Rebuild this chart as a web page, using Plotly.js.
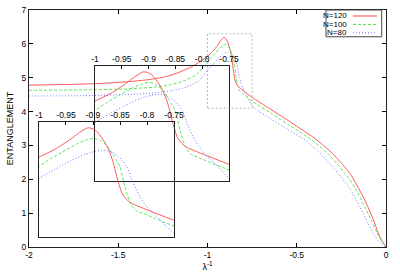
<!DOCTYPE html>
<html>
<head>
<meta charset="utf-8">
<script src="https://cdn.plot.ly/plotly-3.0.1.min.js"></script>
<style>html,body{margin:0;padding:0;background:#fff;}#chart{width:400px;height:280px;}</style>
</head>
<body>
<div id="chart"></div>
<script>
// ---- data ----
var seriesNames = ['N=120', 'N=100', 'N=80'];

var xN120 = [-2, -1.8, -1.6, -1.45, -1.32, -1.22, -1.15, -1.09, -1.04, -1.0, -0.97, -0.943, -0.925, -0.909, -0.895, -0.881, -0.871, -0.863, -0.854, -0.846, -0.838, -0.828, -0.8, -0.75, -0.65, -0.55, -0.45, -0.387, -0.3, -0.2, -0.13, -0.1, -0.07, -0.045, -0.022, 0];
var yN120 = [4.78, 4.80, 4.83, 4.88, 4.95, 5.05, 5.18, 5.32, 5.48, 5.63, 5.78, 5.96, 6.10, 6.19, 6.14, 5.96, 5.77, 5.54, 5.18, 4.93, 4.82, 4.74, 4.62, 4.42, 4.08, 3.74, 3.39, 3.16, 2.76, 2.16, 1.50, 1.17, 0.80, 0.43, 0.17, 0];

var xN100 = [-2, -1.7, -1.45, -1.3, -1.2, -1.12, -1.06, -1.02, -1.0, -0.978, -0.956, -0.93, -0.911, -0.898, -0.885, -0.872, -0.863, -0.856, -0.85, -0.841, -0.831, -0.822, -0.8, -0.75, -0.65, -0.55, -0.415, -0.32, -0.23, -0.17, -0.118, -0.08, -0.05, -0.025, 0];
var yN100 = [4.63, 4.64, 4.67, 4.72, 4.80, 4.93, 5.10, 5.33, 5.45, 5.60, 5.73, 5.88, 5.96, 5.99, 5.94, 5.82, 5.67, 5.55, 5.44, 5.06, 4.75, 4.62, 4.52, 4.31, 3.97, 3.62, 3.16, 2.72, 2.18, 1.72, 1.18, 0.76, 0.41, 0.17, 0];

var xN80 = [-2, -1.7, -1.45, -1.3, -1.2, -1.12, -1.06, -1.03, -1.0, -0.97, -0.943, -0.915, -0.895, -0.883, -0.87, -0.856, -0.846, -0.837, -0.826, -0.813, -0.8, -0.788, -0.776, -0.764, -0.752, -0.73, -0.65, -0.55, -0.454, -0.36, -0.269, -0.2, -0.146, -0.1, -0.073, -0.035, 0];
var yN80 = [4.46, 4.47, 4.50, 4.55, 4.62, 4.72, 4.87, 5.02, 5.22, 5.40, 5.55, 5.68, 5.74, 5.76, 5.74, 5.67, 5.57, 5.44, 5.15, 4.87, 4.67, 4.54, 4.43, 4.30, 4.18, 4.07, 3.80, 3.47, 3.16, 2.72, 2.18, 1.70, 1.18, 0.70, 0.41, 0.13, 0];

var mainXTicks = [-2, -1.5, -1, -0.5, 0];
var mainXTickText = ['-2', '-1.5', '-1', '-0.5', '0'];
var mainYTicks = [0, 1, 2, 3, 4, 5, 6, 7];

var insetXRange = [-1, -0.75];
var insetYRange = [4.1, 6.3];
var insetXTicks = [-1, -0.95, -0.9, -0.85, -0.8, -0.75];
var insetXTickText = ['-1', '-0.95', '-0.9', '-0.85', '-0.8', '-0.75'];

// ---- styles ----
var FONT = 'Liberation Sans, Arial, Helvetica, sans-serif';
var colors = ['rgb(255,70,70)', 'rgb(70,225,70)', 'rgb(100,100,255)'];
var dashes = ['solid', '3px,2px', '1px,2px'];
var xs = [xN120, xN100, xN80];
var ys = [yN120, yN100, yN80];
var axesPairs = [['x', 'y'], ['x2', 'y2'], ['x3', 'y3']];

var traces = [];
for (var a = 0; a < axesPairs.length; a++) {
  for (var s = 0; s < seriesNames.length; s++) {
    traces.push({
      type: 'scatter', mode: 'lines',
      x: xs[s], y: ys[s], name: seriesNames[s],
      xaxis: axesPairs[a][0], yaxis: axesPairs[a][1],
      showlegend: false, hoverinfo: 'skip',
      line: {color: colors[s], width: 0.9, dash: dashes[s], shape: 'spline', smoothing: 0.6}
    });
  }
}

var tickFont = {family: FONT, size: 8.5, color: '#000'};
function insetX(dom, anchor) {
  return {domain: dom, anchor: anchor, range: insetXRange, side: 'top',
    tickvals: insetXTicks, ticktext: insetXTickText, ticks: 'inside', ticklen: 3,
    tickcolor: '#000', showline: true, mirror: true, linecolor: '#222', linewidth: 1,
    showgrid: false, zeroline: false, tickfont: tickFont, fixedrange: true};
}
function insetY(dom, anchor) {
  return {domain: dom, anchor: anchor, range: insetYRange, showticklabels: false,
    ticks: '', showline: true, mirror: true, linecolor: '#222', linewidth: 1,
    showgrid: false, zeroline: false, fixedrange: true};
}

var shapes = [{
  type: 'rect', xref: 'x', yref: 'y',
  x0: insetXRange[0], x1: insetXRange[1], y0: insetYRange[0], y1: insetYRange[1],
  line: {color: '#bbbbbb', width: 1, dash: '2px,2px'}, fillcolor: 'rgba(0,0,0,0)'
}];

// custom legend (text left, sample right, like the reference)
var annotations = [];
var legTop = 1.0, legStep = 0.0355, legFirst = 0.9747;
shapes.push({type: 'rect', xref: 'paper', yref: 'paper', x0: 0.832, x1: 0.988,
  y0: 0.887, y1: legTop, line: {color: '#444', width: 1}, fillcolor: '#fff'});
for (var s = 0; s < seriesNames.length; s++) {
  var yy = legFirst - s * legStep;
  annotations.push({xref: 'paper', yref: 'paper', x: 0.897, y: yy, xanchor: 'right',
    yanchor: 'middle', text: seriesNames[s], showarrow: false,
    font: {family: FONT, size: 8, color: '#000'}});
  shapes.push({type: 'line', xref: 'paper', yref: 'paper', x0: 0.9076, x1: 0.9748,
    y0: yy, y1: yy, line: {color: colors[s], width: 1, dash: dashes[s]}});
}

var layout = {
  width: 400, height: 280,
  margin: {l: 29, r: 14, t: 10, b: 33, pad: 0},
  paper_bgcolor: '#fff', plot_bgcolor: 'rgba(0,0,0,0)',
  font: {family: FONT, size: 9, color: '#000'},
  showlegend: false,
  xaxis: {domain: [0, 1], range: [-2, 0], tickvals: mainXTicks, ticktext: mainXTickText,
    ticks: 'inside', ticklen: 4, tickcolor: '#000', mirror: 'ticks', showline: true,
    linecolor: '#222', linewidth: 1, showgrid: false, zeroline: false, tickfont: tickFont,
    title: {text: 'λ<sup>-1</sup>', font: {family: FONT, size: 9}, standoff: 4}, fixedrange: true},
  yaxis: {domain: [0, 1], range: [0, 7], tickvals: mainYTicks,
    ticks: 'inside', ticklen: 4, tickcolor: '#000', mirror: 'ticks', showline: true,
    linecolor: '#222', linewidth: 1, showgrid: false, zeroline: false, tickfont: tickFont,
    title: {text: 'ENTANGLEMENT', font: {family: FONT, size: 9}, standoff: 6}, fixedrange: true},
  xaxis2: insetX([0.1849, 0.5602], 'y2'),
  yaxis2: insetY([0.2785, 0.7637], 'x2'),
  xaxis3: insetX([0.0280, 0.4062], 'y3'),
  yaxis3: insetY([0.0422, 0.5274], 'x3'),
  shapes: shapes,
  annotations: annotations
};

Plotly.newPlot('chart', traces, layout, {staticPlot: true, displayModeBar: false});
</script>
</body>
</html>
